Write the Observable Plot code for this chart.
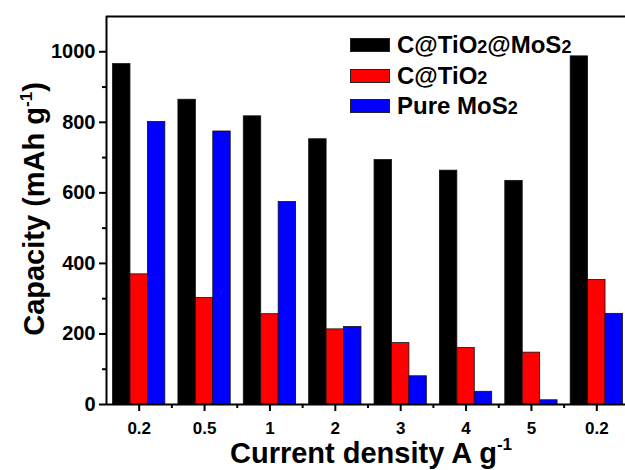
<!DOCTYPE html>
<html>
<head>
<meta charset="utf-8">
<script src="https://cdn.jsdelivr.net/npm/d3@7"></script>
<script src="https://cdn.jsdelivr.net/npm/@observablehq/plot@0.6"></script>
<style>
  html, body { margin: 0; padding: 0; background: white; }
  #wrap { position: relative; width: 625px; height: 470px; overflow: hidden; }
  #wrap svg { max-width: none; }
  .legend { position: absolute; left: 350px; top: 30px; font-family: "Liberation Sans", Arial, sans-serif; font-weight: bold; font-size: 24px; color: #000; }
  .legend .row { display: flex; align-items: center; height: 30.5px; }
  .legend .sw { width: 40px; height: 14px; border: 1px solid #222; box-sizing: border-box; margin-right: 7px; }
  .legend .sub { font-size: 18px; }
</style>
</head>
<body>
<div id="wrap"></div>
<script>
const categories = ["0.2", "0.5", "1", "2", "3", "4", "5", "0.2"];
const seriesNames = ["C@TiO2@MoS2", "C@TiO2", "Pure MoS2"];
const seriesColors = ["#000000", "#ff0000", "#0000ff"];
const valuesCTiO2MoS2 = [965, 864, 817, 752, 693, 663, 634, 987];
const valuesCTiO2 = [369, 302, 256, 213, 174, 160, 147, 353];
const valuesPureMoS2 = [801, 774, 574, 220, 80, 36, 12, 257];
const yTicks = [0, 200, 400, 600, 800, 1000];
const yMinorTicks = [100, 300, 500, 700, 900];

const seriesValues = [valuesCTiO2MoS2, valuesCTiO2, valuesPureMoS2];
const groupWidth = 0.8;
const barW = groupWidth / seriesNames.length;
const data = [];
categories.forEach((c, i) => {
  seriesNames.forEach((s, k) => {
    data.push({i, cat: c, series: s, k, value: seriesValues[k][i],
      x1: i - groupWidth / 2 + k * barW, x2: i - groupWidth / 2 + (k + 1) * barW});
  });
});
const idx = categories.map((_, i) => i);
const between = idx.slice(0, -1).map(i => i + 0.5);
const font = "'Liberation Sans', Arial, sans-serif";

const chart = Plot.plot({
  width: 640,
  height: 470,
  marginLeft: 106,
  marginRight: 11,
  marginTop: 16,
  marginBottom: 66,
  style: {fontFamily: font, fontWeight: "bold", color: "black", background: "white"},
  x: {type: "linear", domain: [-0.5, categories.length - 0.5], axis: null},
  y: {domain: [0, 1100], axis: null},
  color: {domain: seriesNames, range: seriesColors},
  marks: [
    Plot.rectY(data, {x1: "x1", x2: "x2", y1: 0, y2: "value", fill: "series", stroke: "#111", strokeWidth: 0.8}),
    Plot.axisY({ticks: yTicks, tickSize: 7, strokeWidth: 2, text: null, label: null}),
    Plot.text(yTicks, {y: d => d, text: d => String(d), frameAnchor: "left", textAnchor: "end", dx: -11, fontSize: 20, fontWeight: "bold", fill: "black"}),
    Plot.axisY({ticks: yMinorTicks, tickSize: 4, strokeWidth: 2, text: null, label: null}),
    Plot.axisX({ticks: idx, tickSize: 7, strokeWidth: 2, text: null, label: null}),
    Plot.text(idx, {x: d => d, text: d => categories[d], frameAnchor: "bottom", lineAnchor: "top", dy: 17, fontSize: 17, fontWeight: "bold", fill: "black"}),
    Plot.axisX({ticks: between, tickSize: 4, strokeWidth: 2, text: null, label: null}),
    Plot.ruleX([-0.5], {stroke: "black", strokeWidth: 2}),
    Plot.ruleY([0], {stroke: "black", strokeWidth: 2}),
    Plot.ruleY([1100], {stroke: "black", strokeWidth: 2})
  ]
});

const svg = d3.select(chart);

const yt = svg.append("text")
  .attr("transform", "translate(44,209) rotate(-90)")
  .attr("text-anchor", "middle")
  .attr("font-size", 29).attr("font-weight", "bold").attr("fill", "black");
yt.append("tspan").text("Capacity (mAh g");
yt.append("tspan").attr("font-size", 17).attr("dy", -12).text("-1");
yt.append("tspan").attr("dy", 12).text(")");

const xt = svg.append("text")
  .attr("x", 371).attr("y", 463)
  .attr("text-anchor", "middle")
  .attr("font-size", 29).attr("font-weight", "bold").attr("fill", "black");
xt.append("tspan").text("Current density A g");
xt.append("tspan").attr("font-size", 17).attr("dy", -13).text("-1");

const wrap = document.getElementById("wrap");
wrap.appendChild(chart);

const legendLabels = [["C@TiO", "2", "@MoS", "2"], ["C@TiO", "2"], ["Pure MoS", "2"]];
const legend = document.createElement("div");
legend.className = "legend";
legendLabels.forEach((parts, k) => {
  const row = document.createElement("div");
  row.className = "row";
  const sw = document.createElement("div");
  sw.className = "sw";
  sw.style.background = seriesColors[k];
  row.appendChild(sw);
  const t = document.createElement("span");
  parts.forEach(p => {
    const s = document.createElement("span");
    s.textContent = p;
    if (p === "2") s.className = "sub";
    t.appendChild(s);
  });
  row.appendChild(t);
  legend.appendChild(row);
});
wrap.appendChild(legend);
</script>
</body>
</html>
